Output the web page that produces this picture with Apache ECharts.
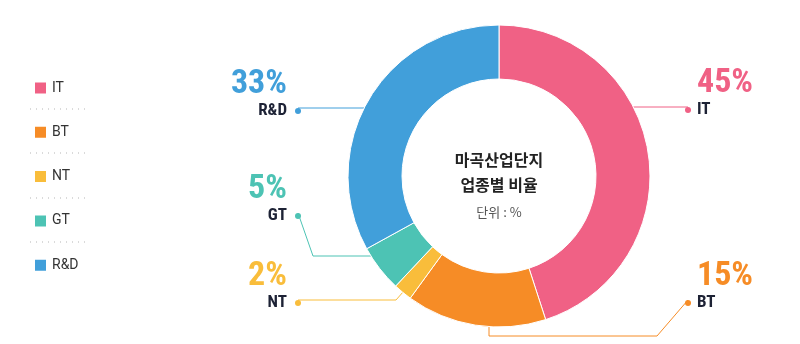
<!DOCTYPE html>
<html>
<head>
<meta charset="utf-8">
<script src="https://cdn.jsdelivr.net/npm/echarts@6/dist/echarts.min.js"></script>
<style>
  html, body { margin: 0; padding: 0; background: #fff; }
  #chart { width: 800px; height: 344px; }
</style>
</head>
<body>
<div id="chart"></div>
<script>
// Industry mix of the Magok industrial complex (share of companies, %)
const categories = ['IT', 'BT', 'NT', 'GT', 'R&D'];
const shares = [45, 15, 2, 5, 33];

// Palette, one colour per category
const palette = ['#F06185', '#F68C26', '#F9BD3B', '#4DC3B4', '#419FDA'];

// Donut geometry
const CX = 499, CY = 176, R_IN = 97, R_OUT = 151;

const LABEL_FONT = "'Roboto Condensed', 'Open Sans', sans-serif";
const CJK_FONT = "'Noto Sans CJK KR', 'Noto Sans', sans-serif";

// x where a horizontal line at height y meets the outer rim
function rimX(y, side) {
  const dy = y - CY;
  return CX + side * Math.sqrt(R_OUT * R_OUT - dy * dy);
}
// y where a vertical line at x meets the lower outer rim
function rimY(x) {
  const dx = x - CX;
  return CY + Math.sqrt(R_OUT * R_OUT - dx * dx);
}

// Callout placement per category: side of the donut and position of the dot
const callouts = {
  'IT':  { side: 1,  dotX: 688, dotY: 107 },
  'BT':  { side: 1,  dotX: 688, dotY: 300 },
  'NT':  { side: -1, dotX: 298, dotY: 300 },
  'GT':  { side: -1, dotX: 298, dotY: 213 },
  'R&D': { side: -1, dotX: 298, dotY: 108 }
};

const PCT_LH = 36, NAME_LH = 18, DOT = 6, GAP = 8;

function leaderPath(name, rimPoint) {
  const c = callouts[name];
  const end = [c.dotX, c.dotY];
  switch (name) {
    case 'IT':  return [[rimX(c.dotY, 1), c.dotY], end];
    case 'R&D': return [[rimX(c.dotY, -1), c.dotY], end];
    case 'GT':  return [[rimX(256, -1), 256], [313, 256], end];
    case 'NT':  return [rimPoint, [396, c.dotY], end];
    case 'BT':  return [[489, rimY(489)], [489, 336], [657, 336], end];
  }
  return [rimPoint, end];
}

const data = categories.map(function (name, i) {
  const left = callouts[name].side < 0;
  const color = palette[i];
  return {
    name: name,
    value: shares[i],
    itemStyle: { color: color },
    labelLine: { lineStyle: { color: color, width: 1 } },
    label: {
      formatter: left
        ? '{pct|' + shares[i] + '%}{pad|}\n{nm|' + name + '}{gap|}{dot|}'
        : '{pad|}{pct|' + shares[i] + '%}\n{dot|}{gap|}{nm|' + name + '}',
      rich: {
        pct: { fontFamily: LABEL_FONT, fontSize: 34, fontWeight: 'bold', color: color, lineHeight: PCT_LH },
        nm: { fontFamily: LABEL_FONT, fontSize: 17, fontWeight: 'bold', color: '#1D2235', lineHeight: NAME_LH },
        pad: { width: left ? GAP + DOT : GAP + DOT - 2, height: 1, lineHeight: PCT_LH },
        gap: { width: left ? GAP : GAP - 2, height: 1, lineHeight: NAME_LH },
        dot: { width: DOT, height: DOT, borderRadius: DOT / 2, backgroundColor: color, lineHeight: NAME_LH }
      }
    }
  };
});

const chart = echarts.init(document.getElementById('chart'), null, { renderer: 'canvas' });

// Dotted separators between legend rows
const separatorYs = [109, 153, 198, 242];
const separators = separatorYs.map(function (y) {
  return {
    type: 'line',
    shape: { x1: 30, y1: y, x2: 88, y2: y },
    style: { stroke: '#B5B5B5', lineWidth: 1, lineDash: [1, 5] },
    silent: true
  };
});

chart.setOption({
  animation: false,
  color: palette,
  legend: {
    orient: 'vertical',
    left: 33,
    top: 80.5,
    padding: 0,
    itemWidth: 13,
    itemHeight: 13,
    itemGap: 29.3,
    icon: 'rect',
    data: categories,
    textStyle: { fontFamily: 'Roboto, sans-serif', fontSize: 14, color: '#333' }
  },
  graphic: separators.concat([
    {
      type: 'text', x: CX, y: 160,
      style: { text: '마곡산업단지', font: 'bold 16px ' + CJK_FONT, fill: '#222', align: 'center', verticalAlign: 'middle' }
    },
    {
      type: 'text', x: CX, y: 185,
      style: { text: '업종별 비율', font: 'bold 16px ' + CJK_FONT, fill: '#222', align: 'center', verticalAlign: 'middle' }
    },
    {
      type: 'text', x: CX, y: 212,
      style: { text: '단위 : %', font: '13px ' + CJK_FONT, fill: '#555', align: 'center', verticalAlign: 'middle' }
    }
  ]),
  series: [{
    type: 'pie',
    center: [CX, CY],
    radius: [R_IN, R_OUT],
    startAngle: 90,
    clockwise: true,
    avoidLabelOverlap: false,
    itemStyle: { borderColor: '#fff', borderWidth: 1 },
    label: { show: true, position: 'outside' },
    labelLine: { show: true, length: 10, length2: 10, smooth: false },
    labelLayout: function (params) {
      const name = categories[params.dataIndex];
      const c = callouts[name];
      const left = c.side < 0;
      return {
        x: left ? c.dotX + DOT / 2 : c.dotX - DOT / 2,
        y: c.dotY - PCT_LH - NAME_LH / 2 + 3,
        align: left ? 'right' : 'left',
        verticalAlign: 'top',
        labelLinePoints: leaderPath(name, params.labelLinePoints ? params.labelLinePoints[0] : [CX, CY])
      };
    },
    emphasis: { disabled: true },
    data: data
  }]
});
</script>
</body>
</html>
